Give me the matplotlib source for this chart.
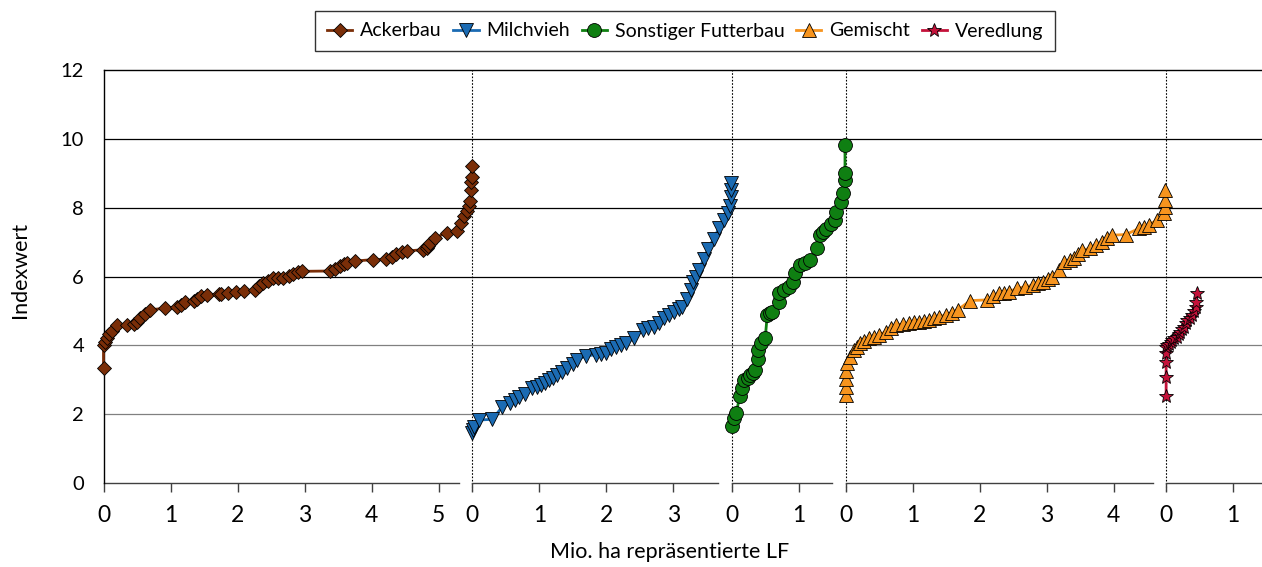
import matplotlib
matplotlib.use("Agg")
import matplotlib.pyplot as plt
import numpy as np

plt.rcParams['font.family'] = ['Lato', 'DejaVu Sans']

# categories and colours
series_names = ["Ackerbau", "Milchvieh", "Sonstiger Futterbau", "Gemischt", "Veredlung"]
series_colors = ["#7A2E08", "#1B6BB3", "#0F7F12", "#F7941E", "#C4123A"]
series_markers = ["D", "v", "o", "^", "*"]
series_msize = [7.5, 10, 10, 10, 10]

# x: cumulative represented LF (Mio. ha), y: index value (sorted)
ackerbau_x = [0.00, 0.00, 0.02, 0.05, 0.08, 0.12, 0.20, 0.35, 0.45, 0.50, 0.55, 0.62, 0.69,
              0.92, 1.10, 1.16, 1.22, 1.35, 1.40, 1.45, 1.55, 1.72, 1.76, 1.85, 1.97, 2.10, 2.26,
              2.32, 2.38, 2.45, 2.53, 2.60, 2.68, 2.76, 2.83, 2.90, 2.96, 3.38, 3.45, 3.53, 3.58,
              3.63, 3.75, 4.02, 4.22, 4.30, 4.37, 4.45, 4.52, 4.77, 4.82, 4.84, 4.87, 4.94,
              5.12, 5.27, 5.33, 5.38, 5.42, 5.45, 5.47, 5.48, 5.48, 5.49, 5.49]
ackerbau_y = [3.33, 4.00, 4.10, 4.22, 4.32, 4.42, 4.58, 4.60, 4.62, 4.68, 4.78, 4.90, 5.03,
              5.08, 5.12, 5.18, 5.25, 5.30, 5.36, 5.42, 5.47, 5.48, 5.50, 5.52, 5.56, 5.58, 5.62,
              5.72, 5.80, 5.88, 5.95, 5.96, 5.97, 6.02, 6.08, 6.12, 6.15, 6.16, 6.22, 6.30, 6.35,
              6.40, 6.45, 6.49, 6.50, 6.58, 6.64, 6.70, 6.74, 6.78, 6.84, 6.88, 6.98, 7.12,
              7.27, 7.32, 7.55, 7.75, 7.90, 8.05, 8.20, 8.50, 8.75, 8.90, 9.20]

milchvieh_x = [0.00, 0.01, 0.02, 0.10, 0.30, 0.45, 0.57, 0.64, 0.70, 0.79, 0.89,
               0.96, 1.02, 1.08, 1.14, 1.20, 1.27, 1.34, 1.42, 1.50, 1.57, 1.69, 1.84, 1.92,
               1.99, 2.07, 2.14, 2.22, 2.29, 2.41, 2.54, 2.62, 2.71, 2.78, 2.86, 2.94, 3.01,
               3.08, 3.13, 3.21, 3.26, 3.30, 3.34, 3.38, 3.45, 3.52, 3.60, 3.68, 3.75, 3.82,
               3.85, 3.86, 3.86, 3.86]
milchvieh_y = [1.44, 1.55, 1.64, 1.83, 1.85, 2.22, 2.31, 2.40, 2.50, 2.60, 2.75,
               2.80, 2.84, 2.92, 2.99, 3.05, 3.13, 3.22, 3.33, 3.45, 3.57, 3.70, 3.72, 3.75,
               3.78, 3.88, 3.96, 4.00, 4.06, 4.20, 4.45, 4.50, 4.54, 4.66, 4.79, 4.88, 4.98,
               5.05, 5.12, 5.36, 5.60, 5.85, 6.00, 6.20, 6.50, 6.80, 7.10, 7.40, 7.65, 7.85,
               8.05, 8.30, 8.50, 8.72]

futterbau_x = [0.00, 0.03, 0.07, 0.12, 0.15, 0.19, 0.24, 0.28, 0.32, 0.35, 0.39, 0.39,
               0.43, 0.50, 0.53, 0.57, 0.60, 0.70, 0.70, 0.78, 0.85, 0.92, 0.95, 1.02,
               1.10, 1.17, 1.27, 1.32, 1.36, 1.41, 1.48, 1.54, 1.56, 1.63, 1.66, 1.69, 1.69, 1.69]
futterbau_y = [1.66, 1.88, 2.04, 2.53, 2.75, 2.99, 3.05, 3.14, 3.20, 3.28, 3.59, 3.86,
               4.08, 4.20, 4.88, 4.93, 4.98, 5.27, 5.53, 5.62, 5.70, 5.85, 6.09, 6.33,
               6.40, 6.48, 6.82, 7.20, 7.28, 7.37, 7.52, 7.64, 7.88, 8.17, 8.43, 8.80, 9.00, 9.81]

gemischt_x = [0.00, 0.00, 0.00, 0.00, 0.02, 0.07, 0.12, 0.17, 0.22, 0.28, 0.35, 0.42, 0.50,
              0.60, 0.68, 0.75, 0.85, 0.94, 1.02, 1.09, 1.17, 1.24, 1.32, 1.39, 1.49, 1.58,
              1.67, 1.86, 2.11, 2.20, 2.29, 2.36, 2.44, 2.56, 2.68, 2.79, 2.87, 2.94, 3.02,
              3.08, 3.18, 3.26, 3.34, 3.41, 3.47, 3.53, 3.65, 3.74, 3.83, 3.90, 3.98, 4.18,
              4.38, 4.45, 4.52, 4.65, 4.75, 4.76, 4.77, 4.77]
gemischt_y = [2.56, 2.80, 3.01, 3.25, 3.48, 3.67, 3.86, 3.96, 4.06, 4.13, 4.20, 4.25, 4.30,
              4.40, 4.50, 4.59, 4.62, 4.64, 4.67, 4.69, 4.71, 4.73, 4.78, 4.83, 4.88, 4.95,
              5.03, 5.30, 5.32, 5.42, 5.51, 5.53, 5.56, 5.66, 5.70, 5.75, 5.80, 5.85, 5.92,
              5.99, 6.19, 6.43, 6.48, 6.53, 6.66, 6.77, 6.82, 6.92, 7.01, 7.12, 7.20, 7.22,
              7.40, 7.45, 7.50, 7.64, 7.84, 8.03, 8.22, 8.51]

veredlung_x = [0.00, 0.00, 0.00, 0.00, 0.00, 0.02, 0.04, 0.07, 0.09, 0.12, 0.16, 0.19,
               0.21, 0.24, 0.26, 0.29, 0.31, 0.35, 0.39, 0.42, 0.44, 0.45, 0.46]
veredlung_y = [2.53, 3.09, 3.52, 3.77, 3.94, 4.00, 4.04, 4.10, 4.15, 4.20, 4.25, 4.32,
               4.40, 4.47, 4.54, 4.64, 4.74, 4.80, 4.88, 5.00, 5.12, 5.27, 5.51]

all_x = [ackerbau_x, milchvieh_x, futterbau_x, gemischt_x, veredlung_x]
all_y = [ackerbau_y, milchvieh_y, futterbau_y, gemischt_y, veredlung_y]

y_ticks = [0, 2, 4, 6, 8, 10, 12]

# each group starts where the previous one ended
offsets = [0.0]
for xs in all_x[:-1]:
    offsets.append(offsets[-1] + max(xs) + 0.01)

W, H = 1262, 567
fig = plt.figure(figsize=(W / 100, H / 100), dpi=100)
ax = fig.add_axes([103.5 / W, (H - 483) / H, (W - 103.5) / W, 413 / H])

x_right = 17.28
ax.set_xlim(0, x_right)
ax.set_ylim(0, 12)

# horizontal gridlines (lower ones grey, upper ones black as in the original)
for y in y_ticks[1:-1]:
    ax.axhline(y, color="#808080" if y <= 4 else "black", lw=0.9, zorder=1)

# dotted separators at each group start
for off in offsets[1:]:
    ax.axvline(off, ymin=-0.02, ymax=1, color="black", lw=0.8, ls=(0, (1.5, 1.5)),
               zorder=1, clip_on=False)

# broken x axis: one segment per group
seg_ends = [o - 0.2 for o in offsets[1:]] + [x_right]
xt_pos, xt_lab = [], []
for off, end in zip(offsets, seg_ends):
    ax.plot([off, end], [0, 0], color="#404040", lw=1.0, clip_on=False, zorder=2)
    for i in range(int(np.floor(end - off + 1e-9)) + 1):
        xt_pos.append(off + i)
        xt_lab.append(str(i))

for name, xs, ys, col, mk, ms, off in zip(series_names, all_x, all_y, series_colors,
                                          series_markers, series_msize, offsets):
    ax.plot(np.array(xs) + off, ys, color=col, lw=2.0, marker=mk, markersize=ms,
            markerfacecolor=col, markeredgecolor="black", markeredgewidth=0.6,
            label=name, clip_on=False, zorder=3)

ax.set_xticks(xt_pos)
ax.set_xticklabels(xt_lab)
ax.set_yticks(y_ticks)
ax.tick_params(axis="x", direction="out", length=6.5, width=1, color="#404040",
               labelsize=16.5, pad=9)
ax.tick_params(axis="y", length=0, labelsize=14.5, pad=14)

ax.spines["right"].set_visible(False)
ax.spines["bottom"].set_visible(False)
ax.spines["left"].set_linewidth(1)
ax.spines["top"].set_linewidth(1)

ax.set_ylabel("Indexwert", fontsize=15.5, va="center")
ax.yaxis.set_label_coords(-0.072, 0.516)
ax.set_xlabel("Mio. ha repräsentierte LF", fontsize=15.5, va="center")
ax.xaxis.set_label_coords(0.489, -0.167)

leg = fig.legend(loc="center", bbox_to_anchor=(685 / W, 1 - 31 / H), ncol=5,
                 fontsize=14, frameon=True, fancybox=False, handlelength=1.3,
                 handletextpad=0.4, columnspacing=0.6, borderpad=0.6)
leg.get_frame().set_edgecolor("black")
leg.get_frame().set_linewidth(1)

fig.savefig("out.png", dpi=100)
